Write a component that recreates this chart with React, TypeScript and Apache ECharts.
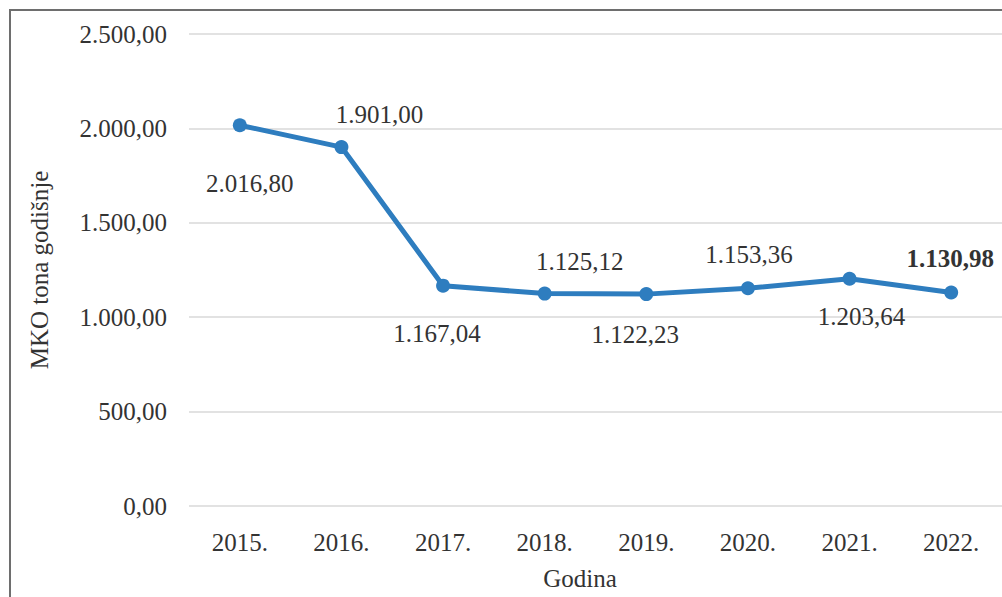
import React, { useEffect, useRef } from "react";
import * as echarts from "echarts";

const years = ["2015.", "2016.", "2017.", "2018.", "2019.", "2020.", "2021.", "2022."];
const values = [2016.8, 1901.0, 1167.04, 1125.12, 1122.23, 1153.36, 1203.64, 1130.98];
const yTicks = [0, 500, 1000, 1500, 2000, 2500];
// label placement (styling), kept apart from the data
const labelOffsets: [number, number][] = [
  [10, 58], [38, -33], [-6, 48], [35, -32], [-11, 40], [1, -34], [12, 38], [-1, -34],
];
const boldLabel = [false, false, false, false, false, false, false, true];

const fmt = (v: number) => {
  const fixed = v.toFixed(2);
  const [intPart, dec] = fixed.split(".");
  const withDots = intPart.replace(/\B(?=(\d{3})+(?!\d))/g, ".");
  return withDots + "," + dec;
};

const FONT = "Liberation Serif, Times New Roman, serif";
const TEXT = "#333333";
const BLUE = "#2E7DBF";

export default function App() {
  const ref = useRef<HTMLDivElement>(null);
  useEffect(() => {
    document.body.style.margin = "0";
    if (!ref.current) return;
    const chart = echarts.init(ref.current, undefined, { renderer: "svg" });
    chart.setOption({
      animation: false,
      backgroundColor: "#ffffff",
      textStyle: { fontFamily: FONT },
      grid: { left: 189, top: 34, width: 815, height: 472, containLabel: false },
      xAxis: {
        type: "category",
        data: years,
        boundaryGap: true,
        axisLine: { show: false },
        axisTick: { show: false },
        axisLabel: { color: TEXT, fontFamily: FONT, fontSize: 25, margin: 24 },
      },
      yAxis: {
        type: "value",
        min: yTicks[0],
        max: yTicks[yTicks.length - 1],
        interval: 500,
        name: "MKO tona godišnje",
        nameLocation: "middle",
        nameGap: 137,
        nameTextStyle: { color: TEXT, fontFamily: FONT, fontSize: 25 },
        axisLine: { show: false },
        axisTick: { show: false },
        splitLine: { lineStyle: { color: "#d9d9d9", width: 1.5 } },
        axisLabel: {
          color: TEXT,
          fontFamily: FONT,
          fontSize: 25,
          margin: 22,
          formatter: (v: number) => fmt(v),
        },
      },
      graphic: [
        {
          type: "rect",
          shape: { x: 10, y: 10, width: 1010, height: 610 },
          style: { fill: "none", stroke: "#6e6e6e", lineWidth: 2 },
          z: 10,
        },
        {
          type: "text",
          x: 580,
          y: 578,
          style: {
            text: "Godina",
            fill: TEXT,
            fontFamily: FONT,
            fontSize: 25,
            textAlign: "center",
            textVerticalAlign: "middle",
          },
        },
      ],
      series: [
        {
          type: "line",
          data: values.map((v, i) => ({
            value: v,
            label: {
              show: true,
              position: "inside",
              offset: labelOffsets[i],
              fontWeight: boldLabel[i] ? "bold" : "normal",
            },
          })),
          symbol: "circle",
          symbolSize: 14,
          lineStyle: { color: BLUE, width: 5 },
          itemStyle: { color: BLUE },
          label: {
            show: true,
            color: TEXT,
            fontFamily: FONT,
            fontSize: 25,
            formatter: (p: any) => fmt(p.value),
          },
        },
      ],
    });
    return () => chart.dispose();
  }, []);
  return <div ref={ref} style={{ width: 1002, height: 597 }} />;
}
